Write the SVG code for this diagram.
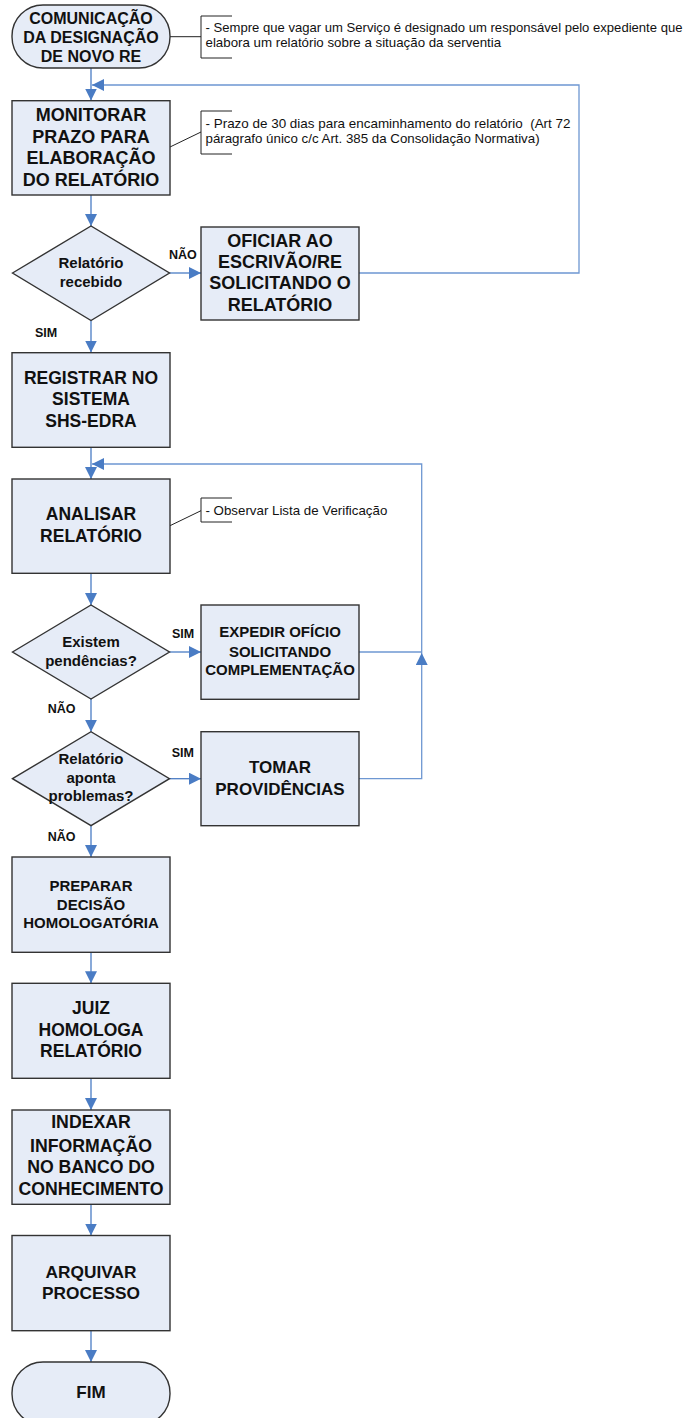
<svg xmlns="http://www.w3.org/2000/svg" width="688" height="1418" viewBox="0 0 688 1418">
<defs>
<marker id="ah" markerUnits="userSpaceOnUse" markerWidth="12" markerHeight="12" refX="12" refY="6" orient="auto">
<path d="M0,0 L12,6 L0,12 z" fill="#4A7CC4"/>
</marker>
<style>
.box{fill:#E6ECF7;stroke:#333;stroke-width:1.4}
.t{font-family:"Liberation Sans",Arial,sans-serif;font-weight:bold;fill:#111;text-anchor:middle}
.lbl{font-family:"Liberation Sans",Arial,sans-serif;font-weight:bold;fill:#111;font-size:12.5px}
.note{font-family:"Liberation Sans",Arial,sans-serif;fill:#111;font-size:13.3px}
.con{fill:none;stroke:#4A7CC4;stroke-width:1.3}
.fb{fill:none;stroke:#6E97D2;stroke-width:1.3}
.ann{fill:none;stroke:#222;stroke-width:1}
</style>
</defs>
<rect width="688" height="1418" fill="#fff"/>

<g id="connectors">
<path class="con" d="M91,68 V100.5" marker-end="url(#ah)"/>
<path class="fb" d="M359,273 H579 V85 H92" marker-end="url(#ah)"/>
<path class="con" d="M91,195 V226" marker-end="url(#ah)"/>
<path class="con" d="M169.5,273 H201" marker-end="url(#ah)"/>
<path class="con" d="M91,320.5 V352.5" marker-end="url(#ah)"/>
<path class="con" d="M91,447.5 V479" marker-end="url(#ah)"/>
<path class="con" d="M91,573.5 V605" marker-end="url(#ah)"/>
<path class="con" d="M169.5,652 H201" marker-end="url(#ah)"/>
<path class="fb" d="M359,652 H421.7"/>
<path class="fb" d="M359,778.7 H421.7 V653" marker-end="url(#ah)"/>
<path class="fb" d="M421.7,653 V464 H92" marker-end="url(#ah)"/>
<path class="con" d="M91,699 V731.7" marker-end="url(#ah)"/>
<path class="con" d="M169.5,778.7 H201" marker-end="url(#ah)"/>
<path class="con" d="M91,825.7 V857" marker-end="url(#ah)"/>
<path class="con" d="M91,952.3 V983.3" marker-end="url(#ah)"/>
<path class="con" d="M91,1078.3 V1110" marker-end="url(#ah)"/>
<path class="con" d="M91,1204.3 V1235.5" marker-end="url(#ah)"/>
<path class="con" d="M91,1330.7 V1362" marker-end="url(#ah)"/>
<path class="ann" d="M170,36.7 H201"/>
<path class="ann" d="M170,147 L201,132"/>
<path class="ann" d="M170,525.7 L201,510.7"/>
</g>

<g id="labels">
<text class="lbl" x="169" y="259">NÃO</text>
<text class="lbl" x="35" y="337">SIM</text>
<text class="lbl" x="172" y="637.7">SIM</text>
<text class="lbl" x="47.7" y="712.7">NÃO</text>
<text class="lbl" x="171.7" y="756.7">SIM</text>
<text class="lbl" x="47.7" y="840.7">NÃO</text>
</g>

<g id="start">
<rect class="box" x="12" y="5" width="158" height="63" rx="31" ry="31"/>
<text class="t" font-size="16" x="91" y="24">COMUNICAÇÃO</text>
<text class="t" font-size="16" x="91" y="43">DA DESIGNAÇÃO</text>
<text class="t" font-size="16" x="91" y="62">DE NOVO RE</text>
</g>

<g id="note1">
<path class="ann" d="M232,16 H201 V58 H232"/>
<text class="note" x="205.5" y="32.3" textLength="477" lengthAdjust="spacingAndGlyphs">- Sempre que vagar um Serviço é designado um responsável pelo expediente que</text>
<text class="note" x="205.5" y="46.7">elabora um relatório sobre a situação da serventia</text>
</g>

<g id="monitorar">
<rect class="box" x="12" y="100.7" width="158" height="94.3"/>
<text class="t" font-size="18" x="91" y="121">MONITORAR</text>
<text class="t" font-size="18" x="91" y="142.5">PRAZO PARA</text>
<text class="t" font-size="18" x="91" y="164">ELABORAÇÃO</text>
<text class="t" font-size="18" x="91" y="185.5">DO RELATÓRIO</text>
</g>

<g id="note2">
<path class="ann" d="M232,111 H201 V154 H232"/>
<text class="note" x="205.5" y="128.3" textLength="365" lengthAdjust="spacingAndGlyphs">- Prazo de 30 dias para encaminhamento do relatório&#160; (Art 72</text>
<text class="note" x="205.5" y="143.3">páragrafo único c/c Art. 385 da Consolidação Normativa)</text>
</g>

<g id="decisao1">
<polygon class="box" points="12.5,273 91,226 169.5,273 91,320.5"/>
<text class="t" font-size="15" x="91" y="268">Relatório</text>
<text class="t" font-size="15" x="91" y="287">recebido</text>
</g>

<g id="oficiar">
<rect class="box" x="201" y="227" width="158" height="93"/>
<text class="t" font-size="18" x="280" y="246.7">OFICIAR AO</text>
<text class="t" font-size="18" x="280" y="268">ESCRIVÃO/RE</text>
<text class="t" font-size="18" x="280" y="289.3">SOLICITANDO O</text>
<text class="t" font-size="18" x="280" y="310.5">RELATÓRIO</text>
</g>

<g id="registrar">
<rect class="box" x="12" y="352.7" width="158" height="94.6"/>
<text class="t" font-size="17.5" x="91" y="384">REGISTRAR NO</text>
<text class="t" font-size="17.5" x="91" y="405.3">SISTEMA</text>
<text class="t" font-size="17.5" x="91" y="426.7">SHS-EDRA</text>
</g>

<g id="analisar">
<rect class="box" x="12" y="479" width="158" height="94.3"/>
<text class="t" font-size="17.5" x="91" y="520">ANALISAR</text>
<text class="t" font-size="17.5" x="91" y="541.7">RELATÓRIO</text>
</g>

<g id="note3">
<path class="ann" d="M232,498 H201 V522 H232"/>
<text class="note" x="205.5" y="515">- Observar Lista de Verificação</text>
</g>

<g id="decisao2">
<polygon class="box" points="12.5,652 91,605 169.5,652 91,699"/>
<text class="t" font-size="15" x="91" y="647">Existem</text>
<text class="t" font-size="15" x="91" y="666">pendências?</text>
</g>

<g id="expedir">
<rect class="box" x="201" y="605" width="158" height="94.3"/>
<text class="t" font-size="15" x="280" y="637">EXPEDIR OFÍCIO</text>
<text class="t" font-size="15" x="280" y="656.5">SOLICITANDO</text>
<text class="t" font-size="15" x="280" y="675">COMPLEMENTAÇÃO</text>
</g>

<g id="decisao3">
<polygon class="box" points="12.5,778.7 91,731.7 169.5,778.7 91,825.7"/>
<text class="t" font-size="15" x="91" y="764">Relatório</text>
<text class="t" font-size="15" x="91" y="782.7">aponta</text>
<text class="t" font-size="15" x="91" y="800.5">problemas?</text>
</g>

<g id="tomar">
<rect class="box" x="201" y="731.7" width="158" height="94"/>
<text class="t" font-size="17" x="280" y="773">TOMAR</text>
<text class="t" font-size="17" x="280" y="795">PROVIDÊNCIAS</text>
</g>

<g id="preparar">
<rect class="box" x="12" y="857" width="158" height="95.3"/>
<text class="t" font-size="15" x="91" y="891">PREPARAR</text>
<text class="t" font-size="15" x="91" y="909.5">DECISÃO</text>
<text class="t" font-size="15" x="91" y="928.3">HOMOLOGATÓRIA</text>
</g>

<g id="juiz">
<rect class="box" x="12" y="983.3" width="158" height="95"/>
<text class="t" font-size="17.5" x="91" y="1014.3">JUIZ</text>
<text class="t" font-size="17.5" x="91" y="1036">HOMOLOGA</text>
<text class="t" font-size="17.5" x="91" y="1057.3">RELATÓRIO</text>
</g>

<g id="indexar">
<rect class="box" x="12" y="1110" width="158" height="94.3"/>
<text class="t" font-size="17.7" x="91" y="1128.3">INDEXAR</text>
<text class="t" font-size="17.7" x="91" y="1151.7">INFORMAÇÃO</text>
<text class="t" font-size="17.7" x="91" y="1173.3">NO BANCO DO</text>
<text class="t" font-size="17.7" x="91" y="1195">CONHECIMENTO</text>
</g>

<g id="arquivar">
<rect class="box" x="12" y="1235.5" width="158" height="95.2"/>
<text class="t" font-size="17.3" x="91" y="1277.5">ARQUIVAR</text>
<text class="t" font-size="17.3" x="91" y="1299">PROCESSO</text>
</g>

<g id="fim">
<rect class="box" x="12" y="1362" width="158" height="63" rx="31" ry="31"/>
<text class="t" font-size="17" x="91" y="1398">FIM</text>
</g>
</svg>
